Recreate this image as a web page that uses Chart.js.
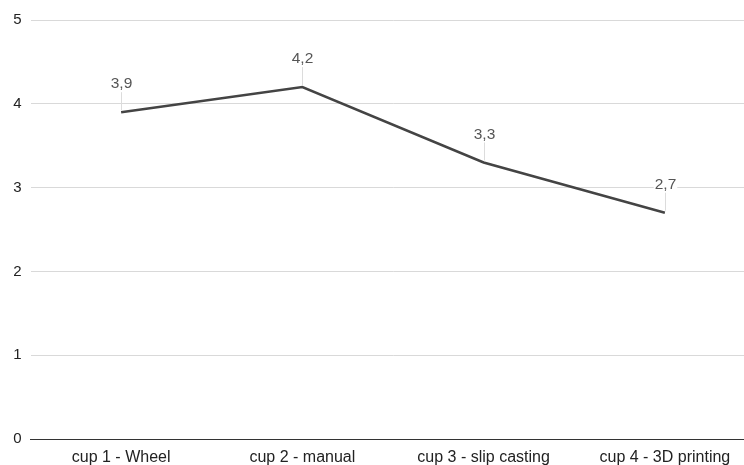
<!DOCTYPE html>
<html>
<head>
<meta charset="utf-8">
<script src="https://cdn.jsdelivr.net/npm/chart.js@4/dist/chart.umd.min.js"></script>
<style>
  html, body { margin: 0; padding: 0; background: #fff; }
  #wrap { width: 744px; height: 465px; overflow: hidden; position: relative; }
  canvas { display: block; }
</style>
</head>
<body>
<div id="wrap"><canvas id="c" width="760" height="465"></canvas></div>
<script>
const categories = ['cup 1 - Wheel', 'cup 2 - manual', 'cup 3 - slip casting', 'cup 4 - 3D printing'];
const scores = [3.9, 4.2, 3.3, 2.7];
const yTicks = [0, 1, 2, 3, 4, 5];

const FONT = '"Liberation Sans", Arial, sans-serif';

// Value labels above each point, joined to it by a thin leader line
const leaderLabels = {
  id: 'leaderLabels',
  afterDatasetsDraw(chart) {
    const ctx = chart.ctx;
    const meta = chart.getDatasetMeta(0);
    ctx.save();
    ctx.font = '15.5px ' + FONT;
    ctx.textAlign = 'center';
    ctx.textBaseline = 'middle';
    meta.data.forEach((pt, i) => {
      const x = Math.round(pt.x) + 0.5;
      const y = pt.y;
      ctx.strokeStyle = '#dcdcdc';
      ctx.lineWidth = 1;
      ctx.beginPath();
      ctx.moveTo(x, y - 2);
      ctx.lineTo(x, y - 21);
      ctx.stroke();
      const txt = String(scores[i]).replace('.', ',');
      const w = ctx.measureText(txt).width;
      ctx.fillStyle = '#ffffff';
      ctx.fillRect(x - w / 2 - 1, y - 36, w + 2, 16);
      ctx.fillStyle = '#555555';
      ctx.fillText(txt, x, y - 28);
    });
    ctx.restore();
  }
};

new Chart(document.getElementById('c'), {
  type: 'line',
  data: {
    labels: categories,
    datasets: [{
      data: scores,
      borderColor: '#444444',
      borderWidth: 2.5,
      pointRadius: 0,
      pointHoverRadius: 0,
      tension: 0,
      fill: false
    }]
  },
  options: {
    responsive: false,
    animation: false,
    events: [],
    layout: { padding: { top: 20, right: 4.5, bottom: 0, left: 0 } },
    plugins: { legend: { display: false }, tooltip: { enabled: false } },
    scales: {
      x: {
        offset: true,
        afterFit(scale) { scale.height = 26; },
        grid: { display: false, drawTicks: false },
        border: { display: true, color: '#333333', width: 1 },
        ticks: { color: '#222222', font: { family: FONT, size: 16 }, padding: 8.5, maxRotation: 0, autoSkip: false }
      },
      y: {
        min: yTicks[0],
        max: yTicks[yTicks.length - 1],
        afterBuildTicks(scale) { scale.ticks = yTicks.map(v => ({ value: v })); },
        afterFit(scale) { scale.width = 30.5; },
        grid: {
          drawTicks: false,
          color: (c) => c.tick && c.tick.value === 0 ? 'rgba(0,0,0,0)' : '#d9d9d9'
        },
        border: { display: false },
        ticks: { color: '#222222', font: { family: FONT, size: 15 }, padding: 9 }
      }
    }
  },
  plugins: [leaderLabels]
});
</script>
</body>
</html>
